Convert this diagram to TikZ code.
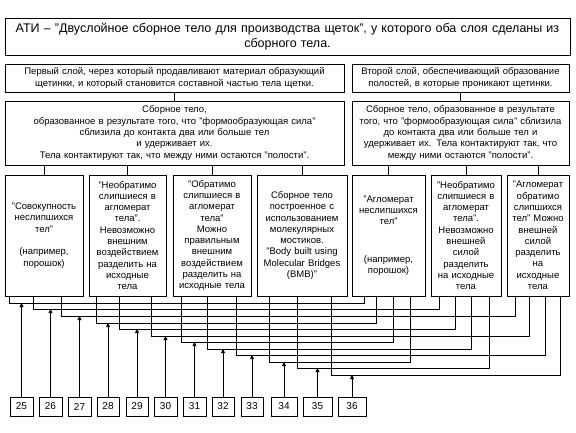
\documentclass[tikz,border=0pt]{standalone}
\usepackage{fontspec}
\setmainfont{Liberation Sans}
\usetikzlibrary{arrows.meta,calc}
\begin{document}
\begin{tikzpicture}[x=1bp,y=-1bp,
  bx/.style={draw, line width=0.9bp, inner sep=0pt, align=center},
  ln/.style={line width=0.9bp},
  arr/.style={line width=0.9bp, -{Triangle[width=4bp,length=4bp]}},
  txt/.style={font=\fontsize{9.5bp}{11.3bp}\selectfont},
  leaf/.style={bx, txt, minimum height=121bp},
]
\useasboundingbox (0,0) rectangle (576,432);

\node[bx, minimum width=565bp, minimum height=37bp, text width=560bp,
  font=\fontsize{12.5bp}{15.5bp}\selectfont] (T) at (287.5,36.5)
  {АТИ – "Двуслойное сборное тело для производства щеток", у которого оба слоя сделаны из\\сборного тела.};

\node[bx, txt, minimum width=339bp, minimum height=28bp, text width=335bp] (R1) at (174.5,78)
  {Первый слой, через который продавливают материал образующий\\щетинки, и который становится составной частью тела щетки.};
\node[bx, txt, minimum width=217bp, minimum height=28bp, text width=213bp] (R2) at (460.5,78)
  {Второй слой, обеспечивающий образование\\полостей, в которые проникают щетинки.};

\node[bx, txt, minimum width=339bp, minimum height=64bp, text width=335bp] (R3) at (174.5,133)
  {Сборное тело,\\образованное в результате того, что "формообразующая сила"\\сблизила до контакта два или больше тел\\и удерживает их.\\Тела контактируют так, что между ними остаются "полости".};
\node[bx, txt, minimum width=217bp, minimum height=64bp, text width=213bp] (R4) at (460.5,133)
  {Сборное тело, образованное в результате\\того, что "формообразующая сила" сблизила\\до контакта два или больше тел и\\удерживает их. Тела контактируют так, что\\между ними остаются "полости".};

\node[leaf, minimum width=78bp, text width=74bp] (L1) at (44,235.5)
  {"Совокупность\\неслипшихся\\тел"\\[11.3bp](например,\\порошок)};
\node[leaf, minimum width=77bp, text width=73bp] (L2) at (127.5,235.5)
  {"Необратимо\\слипшиеся в\\агломерат\\тела".\\Невозможно\\внешним\\воздействием\\разделить на\\исходные\\тела};
\node[leaf, minimum width=78bp, text width=74bp] (L3) at (212,235.5)
  {"Обратимо\\слипшиеся в\\агломерат\\тела"\\Можно\\правильным\\внешним\\воздействием\\разделить на\\исходные тела};
\node[leaf, minimum width=90bp, text width=86bp] (L4) at (302,235.5)
  {Сборное тело\\построенное с\\использованием\\молекулярных\\мостиков.\\"Body built using\\Molecular Bridges\\(BMB)"};
\node[leaf, minimum width=73bp, text width=69bp] (L5) at (388.5,235.5)
  {"Агломерат\\неслипшихся\\тел"\\[26bp](например,\\порошок)};
\node[leaf, minimum width=70bp, text width=66bp] (L6) at (466,235.5)
  {"Необратимо\\слипшиеся в\\агломерат\\тела".\\Невозможно\\внешней\\силой\\разделить\\на исходные\\тела};
\node[leaf, minimum width=62bp, text width=60bp] (L7) at (538,235.5)
  {"Агломерат\\обратимо\\слипшихся\\тел" Можно\\внешней\\силой\\разделить\\на\\исходные\\тела};

\draw[ln] (R1.south) -- (R3.north);
\draw[ln] (R2.south) -- (R4.north);
\foreach \L in {L1,L2,L3,L4} \draw[ln] (R3.south -| \L.north) -- (\L.north);
\foreach \L in {L5,L6,L7} \draw[ln] (R4.south -| \L.north) -- (\L.north);

\foreach \n/\x/\w in {25/21.5/23, 26/50.5/23, 27/79.5/23, 28/108/22, 29/137/22, 30/165.5/23,
  31/194.5/23, 32/223/22, 33/252/22, 34/284/26, 35/317.5/29, 36/352/28}
  \node[bx, minimum width=\w bp, minimum height=19bp, font=\fontsize{10bp}{12bp}\selectfont] (n\n) at (\x,406.5) {\n};

\foreach \la/\da/\lb/\db/\yy/\n in {
 L1/5/L5/13/303/25, L1/29/L6/9/309/26, L1/57/L7/9/316/27,
 L2/8/L5/25/323/28, L2/31/L6/25/329/29, L2/63/L7/23/336/30,
 L3/9/L5/42/342/31, L3/35/L6/41/349/32, L3/64/L7/39/355/33,
 L4/13/L5/59/362/34, L4/41/L6/59/368/35, L4/75/L7/54/375/36}{
  \coordinate (yy) at (0,\yy);
  \coordinate (pa) at ($(\la.south west)+(\da,0)$);
  \coordinate (pb) at ($(\lb.south west)+(\db,0)$);
  \draw[ln] (pa) |- (pb |- yy) -- (pb);
  \draw[arr] (n\n.north) -- (n\n.north |- yy);
}
\end{tikzpicture}
\end{document}
